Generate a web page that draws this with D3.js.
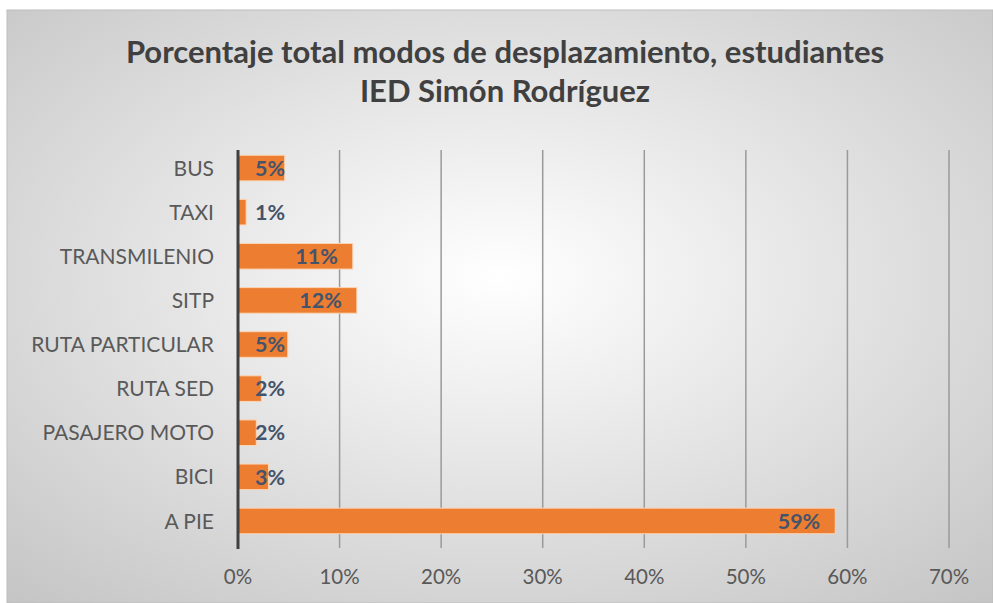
<!DOCTYPE html>
<html>
<head>
<meta charset="utf-8">
<script src="https://cdn.jsdelivr.net/npm/d3@7"></script>
<style>
  body { margin: 0; background: #fff; }
  text { font-family: Lato, "Open Sans", sans-serif; }
</style>
</head>
<body>
<svg id="chart" width="993" height="603"></svg>
<script>
var categories = ["BUS", "TAXI", "TRANSMILENIO", "SITP", "RUTA PARTICULAR", "RUTA SED", "PASAJERO MOTO", "BICI", "A PIE"];
var values = [4.6, 0.8, 11.3, 11.7, 4.9, 2.3, 1.8, 3.0, 58.8];
var labels = ["5%", "1%", "11%", "12%", "5%", "2%", "2%", "3%", "59%"];
var ticks = [0, 10, 20, 30, 40, 50, 60, 70];
var titleLines = ["Porcentaje total modos de desplazamiento, estudiantes", "IED Simón Rodríguez"];

var svg = d3.select("#chart"), width = 993, height = 603;

// background panel
var defs = svg.append("defs");
var grad = defs.append("radialGradient")
    .attr("id", "bg")
    .attr("cx", "50%").attr("cy", "45%").attr("r", "75%");
grad.append("stop").attr("offset", "0%").attr("stop-color", "#ffffff");
grad.append("stop").attr("offset", "100%").attr("stop-color", "#c4c4c4");

svg.append("rect")
    .attr("x", 7).attr("y", 10)
    .attr("width", width - 7).attr("height", height - 10)
    .attr("fill", "url(#bg)")
    .attr("stroke", "#bdbdbd");

var margin = {left: 238, right: 44, top: 146, bottom: 60};

var x = d3.scaleLinear()
    .domain([0, 70])
    .range([margin.left, width - margin.right]);

var y = d3.scaleBand()
    .domain(categories)
    .range([margin.top, height - margin.bottom])
    .paddingInner(0.42)
    .paddingOuter(0.21);

// title
svg.append("g")
    .selectAll("text")
    .data(titleLines)
    .enter()
    .append("text")
        .attr("x", 505)
        .attr("y", function(d, i) { return 63 + i * 39; })
        .attr("text-anchor", "middle")
        .attr("font-size", 31)
        .attr("font-weight", "bold")
        .attr("fill", "#404040")
        .text(function(d) { return d; });

// gridlines
svg.append("g")
    .selectAll("line")
    .data(ticks.slice(1))
    .enter()
    .append("line")
        .attr("x1", function(d) { return x(d); })
        .attr("x2", function(d) { return x(d); })
        .attr("y1", margin.top + 4)
        .attr("y2", height - margin.bottom + 5)
        .attr("stroke", "#9a9a9a")
        .attr("stroke-width", 1.5);

// bars
svg.append("g")
    .selectAll("rect")
    .data(values)
    .enter()
    .append("rect")
        .attr("x", x(0))
        .attr("y", function(d, i) { return y(categories[i]); })
        .attr("width", function(d) { return x(d) - x(0); })
        .attr("height", y.bandwidth())
        .attr("fill", "#ed7d31")
        .attr("stroke", "#fbd5b5")
        .attr("stroke-width", 1);

// y axis line
svg.append("line")
    .attr("x1", x(0)).attr("x2", x(0))
    .attr("y1", margin.top + 4)
    .attr("y2", height - margin.bottom + 6)
    .attr("stroke", "#404040")
    .attr("stroke-width", 3);

// category labels
svg.append("g")
    .selectAll("text")
    .data(categories)
    .enter()
    .append("text")
        .attr("x", x(0) - 24)
        .attr("y", function(d) { return y(d) + y.bandwidth() / 2; })
        .attr("dy", "0.36em")
        .attr("text-anchor", "end")
        .attr("font-size", 21)
        .attr("fill", "#595959")
        .text(function(d) { return d; });

// tick labels
svg.append("g")
    .selectAll("text")
    .data(ticks)
    .enter()
    .append("text")
        .attr("x", function(d) { return x(d); })
        .attr("y", 584)
        .attr("text-anchor", "middle")
        .attr("font-size", 20.5)
        .attr("fill", "#595959")
        .text(function(d) { return d + "%"; });

// value labels
svg.append("g")
    .selectAll("text")
    .data(values)
    .enter()
    .append("text")
        .attr("y", function(d, i) { return y(categories[i]) + y.bandwidth() / 2; })
        .attr("dy", "0.36em")
        .attr("font-size", 21.5)
        .attr("font-weight", "bold")
        .attr("fill", "#44546a")
        .text(function(d, i) { return labels[i]; })
        .attr("x", function(d) {
            var w = this.getComputedTextLength();
            return Math.max(x(d) - 15 - w, x(0) + 17);
        });
</script>
</body>
</html>
